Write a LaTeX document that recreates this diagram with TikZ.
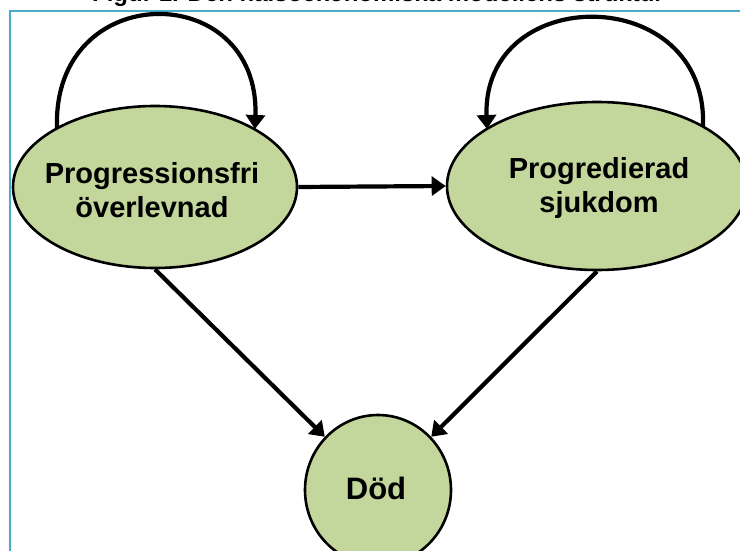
\documentclass[tikz,border=0pt]{standalone}
\usepackage{fontspec}
\setmainfont{Liberation Sans}
\usetikzlibrary{shapes.geometric,arrows.meta}
\definecolor{stategreen}{HTML}{C3D69B}
\definecolor{framecyan}{HTML}{4BACC6}
\tikzset{
  state/.style={ellipse, draw=black, line width=2.6pt, fill=stategreen, inner sep=0pt},
  statetext/.style={align=center, font=\fontsize{29}{34}\selectfont\bfseries},
  conn/.style={line width=4.2pt, -{Triangle[length=14pt,width=19pt]}},
}
\begin{document}
\begin{tikzpicture}[x=1pt,y=-1pt]
\useasboundingbox (0,0) rectangle (740,551);
\clip (0,0) rectangle (740,551);
\node[anchor=base, font=\fontsize{24}{28}\selectfont\bfseries] (title) at (378,2) {Figur 1. Den hälsoekonomiska modellens struktur};
\draw[framecyan, line width=2pt] (9.5,11.5) rectangle (780,600);
\node[state, minimum width=284pt, minimum height=162pt] (pfs) at (155,187) {};
\node[statetext] (pfst) at (152,190) {Progressionsfri\\överlevnad};
\node[state, minimum width=300pt, minimum height=168pt] (pd) at (597,186) {};
\node[statetext] (pdt) at (599,188) {Progredierad\\sjukdom};
\node[state, minimum width=146pt, minimum height=150pt] (dod) at (378,490) {};
\node[statetext, font=\fontsize{31}{36}\selectfont\bfseries] (dodt) at (376,488) {Död};
\coordinate (l1) at (57,128);
\coordinate (l2) at (255,129);
\coordinate (r1) at (703,126);
\coordinate (r2) at (487,129);
\draw[conn] (l1) .. controls (52,-22) and (260,-22) .. (l2);
\draw[conn] (r1) .. controls (708,-18) and (482,-18) .. (r2);
\draw[conn] (pfs.east) -- (pd.west);
\draw[conn] (pfs.south) -- (dod.135);
\draw[conn] (pd.south) -- (dod.45);
\end{tikzpicture}
\end{document}
